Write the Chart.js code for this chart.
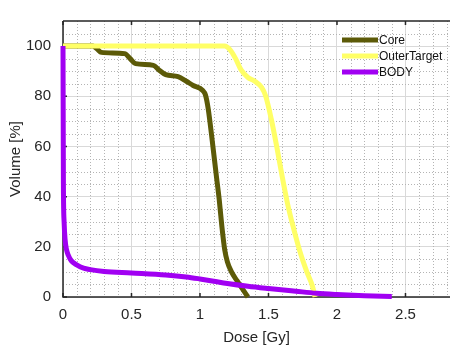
<!DOCTYPE html>
<html>
<head>
<meta charset="utf-8">
<script src="https://cdn.jsdelivr.net/npm/chart.js@4.4.1/dist/chart.umd.min.js"></script>
<style>
html,body{margin:0;padding:0;background:#fff;overflow:hidden;}
#wrap{position:relative;width:450px;height:347px;}
</style>
</head>
<body>
<div id="wrap"><canvas id="c" width="450" height="347"></canvas></div>
<script>
// ---- data ----
const seriesNames = ["Core", "OuterTarget", "BODY"];
const coreDose   = [0, 0.22, 0.25, 0.28, 0.45, 0.49, 0.53, 0.66, 0.70, 0.75, 0.84, 0.90, 0.95, 1.02, 1.04, 1.06, 1.09, 1.12, 1.14, 1.16, 1.18, 1.20, 1.23, 1.27, 1.31, 1.35];
const coreVolume = [100, 100, 98.8, 97.5, 97, 95, 93, 92.3, 90.5, 88.6, 87.8, 86, 84.3, 82.3, 80.5, 75, 62, 48, 39, 28, 19, 14, 10, 6.5, 3.2, 0];
const outerDose   = [0, 1.18, 1.22, 1.26, 1.30, 1.35, 1.40, 1.45, 1.48, 1.52, 1.56, 1.60, 1.64, 1.68, 1.73, 1.78, 1.82, 1.84];
const outerVolume = [100, 100, 98.5, 95, 90.5, 87.5, 86, 83.5, 80, 71, 60, 48, 37, 28, 18, 10, 4.5, 0];
const bodyDose   = [0, 0.003, 0.008, 0.015, 0.025, 0.04, 0.06, 0.10, 0.15, 0.20, 0.30, 0.50, 0.75, 0.90, 1.00, 1.10, 1.20, 1.35, 1.50, 1.70, 1.85, 2.00, 2.20, 2.40];
const bodyVolume = [100, 45, 30, 23, 19, 16.5, 14.5, 12.8, 11.5, 10.9, 10.2, 9.6, 8.8, 8.0, 7.2, 6.3, 5.4, 4.3, 3.4, 2.3, 1.5, 1.0, 0.5, 0.2];
const xMajorTicks = [0, 0.5, 1, 1.5, 2, 2.5];
const yMajorTicks = [0, 20, 40, 60, 80, 100];
const xMinorTicks = [0.1,0.2,0.3,0.4,0.6,0.7,0.8,0.9,1.1,1.2,1.3,1.4,1.6,1.7,1.8,1.9,2.1,2.2,2.3,2.4,2.6,2.7,2.8];
const yMinorTicks = [5,10,15,25,30,35,45,50,55,65,70,75,85,90,95,105];
const xTitle = "Dose [Gy]";
const yTitle = "Volume [%]";
const colors = ["#5c5a08", "#ffff66", "#a100f2"];

function pts(xs, ys){ return xs.map((x,i)=>({x:x, y:ys[i]})); }

const FONT = "'Liberation Sans', Arial, Helvetica, sans-serif";

const gridPlugin = {
  id: 'matlabGrid',
  beforeDatasetsDraw(chart){
    const ctx = chart.ctx, a = chart.chartArea;
    const xs = chart.scales.x, ys = chart.scales.y;
    ctx.save();
    ctx.beginPath(); ctx.rect(a.left, a.top, a.right - a.left, a.bottom - a.top); ctx.clip();
    ctx.strokeStyle = '#b4b4b4';
    ctx.lineWidth = 1;
    ctx.setLineDash([1, 2]);
    xMinorTicks.forEach(v => {
      const p = Math.round(xs.getPixelForValue(v)) + 0.5;
      ctx.beginPath(); ctx.moveTo(p, a.top); ctx.lineTo(p, a.bottom); ctx.stroke();
    });
    yMinorTicks.forEach(v => {
      const p = Math.round(ys.getPixelForValue(v)) + 0.5;
      ctx.beginPath(); ctx.moveTo(a.left, p); ctx.lineTo(a.right, p); ctx.stroke();
    });
    ctx.restore();
    // axes box lines + inward ticks
    ctx.save();
    ctx.strokeStyle = '#262626';
    ctx.lineWidth = 1.5;
    ctx.setLineDash([]);
    ctx.beginPath();
    ctx.moveTo(a.left, a.top); ctx.lineTo(a.right + 2, a.top);
    ctx.moveTo(a.left, a.top); ctx.lineTo(a.left, a.bottom);
    ctx.lineTo(a.right + 2, a.bottom);
    ctx.stroke();
    ctx.lineWidth = 1.5;
    ctx.beginPath();
    xMajorTicks.forEach(v => {
      const p = xs.getPixelForValue(v);
      ctx.moveTo(p, a.bottom); ctx.lineTo(p, a.bottom - 4);
      ctx.moveTo(p, a.top); ctx.lineTo(p, a.top + 4);
    });
    yMajorTicks.forEach(v => {
      const p = ys.getPixelForValue(v);
      ctx.moveTo(a.left, p); ctx.lineTo(a.left + 4, p);
    });
    ctx.stroke();
    ctx.restore();
  },
  afterDatasetsDraw(chart){
    const ctx = chart.ctx, a = chart.chartArea;
    ctx.save();
    ctx.font = '12px ' + FONT;
    ctx.textBaseline = 'middle';
    ctx.textAlign = 'left';
    seriesNames.forEach((name, i) => {
      const y = a.top + 19 + i * 16;
      const x0 = a.right - 108;
      ctx.strokeStyle = colors[i];
      ctx.lineWidth = 5;
      ctx.lineCap = 'butt';
      ctx.beginPath(); ctx.moveTo(x0, y); ctx.lineTo(x0 + 36, y); ctx.stroke();
      ctx.fillStyle = '#111';
      ctx.fillText(name, x0 + 37, y + 0.5);
    });
    ctx.restore();
  }
};

const common = {
  borderWidth: 5,
  pointRadius: 0,
  fill: false,
  cubicInterpolationMode: 'monotone',
  clip: false
};

new Chart(document.getElementById('c'), {
  type: 'line',
  data: {
    datasets: [
      Object.assign({label: seriesNames[0], data: pts(coreDose, coreVolume), borderColor: colors[0], order: 2}, common),
      Object.assign({label: seriesNames[1], data: pts(outerDose, outerVolume), borderColor: colors[1], order: 1}, common),
      Object.assign({label: seriesNames[2], data: pts(bodyDose, bodyVolume), borderColor: colors[2], order: 0}, common)
    ]
  },
  options: {
    responsive: false,
    animation: false,
    events: [],
    layout: {padding: {top: 7, right: 0, left: 0, bottom: 0}},
    plugins: {legend: {display: false}, tooltip: {enabled: false}},
    scales: {
      x: {
        type: 'linear', min: 0, max: 2.825,
        afterBuildTicks: s => { s.ticks = xMajorTicks.map(v => ({value: v})); },
        afterFit: s => { s.height = 50; },
        ticks: {
          color: '#262626', font: {family: FONT, size: 15}, padding: 9, maxRotation: 0,
          callback: v => String(v)
        },
        grid: {color: '#d9d9d9', lineWidth: 1, drawTicks: false},
        border: {display: false},
        title: {display: true, text: xTitle, color: '#262626', font: {family: FONT, size: 15}, padding: {top: 1, bottom: 0}}
      },
      y: {
        type: 'linear', min: 0, max: 110,
        afterBuildTicks: s => { s.ticks = yMajorTicks.map(v => ({value: v})); },
        afterFit: s => { s.width = 63; },
        ticks: {color: '#262626', font: {family: FONT, size: 15}, padding: 12, callback: v => String(v)},
        grid: {color: '#d9d9d9', lineWidth: 1, drawTicks: false},
        border: {display: false},
        title: {display: true, text: yTitle, color: '#262626', font: {family: FONT, size: 15}, padding: {top: 7, bottom: 0}}
      }
    }
  },
  plugins: [gridPlugin]
});
</script>
</body>
</html>
